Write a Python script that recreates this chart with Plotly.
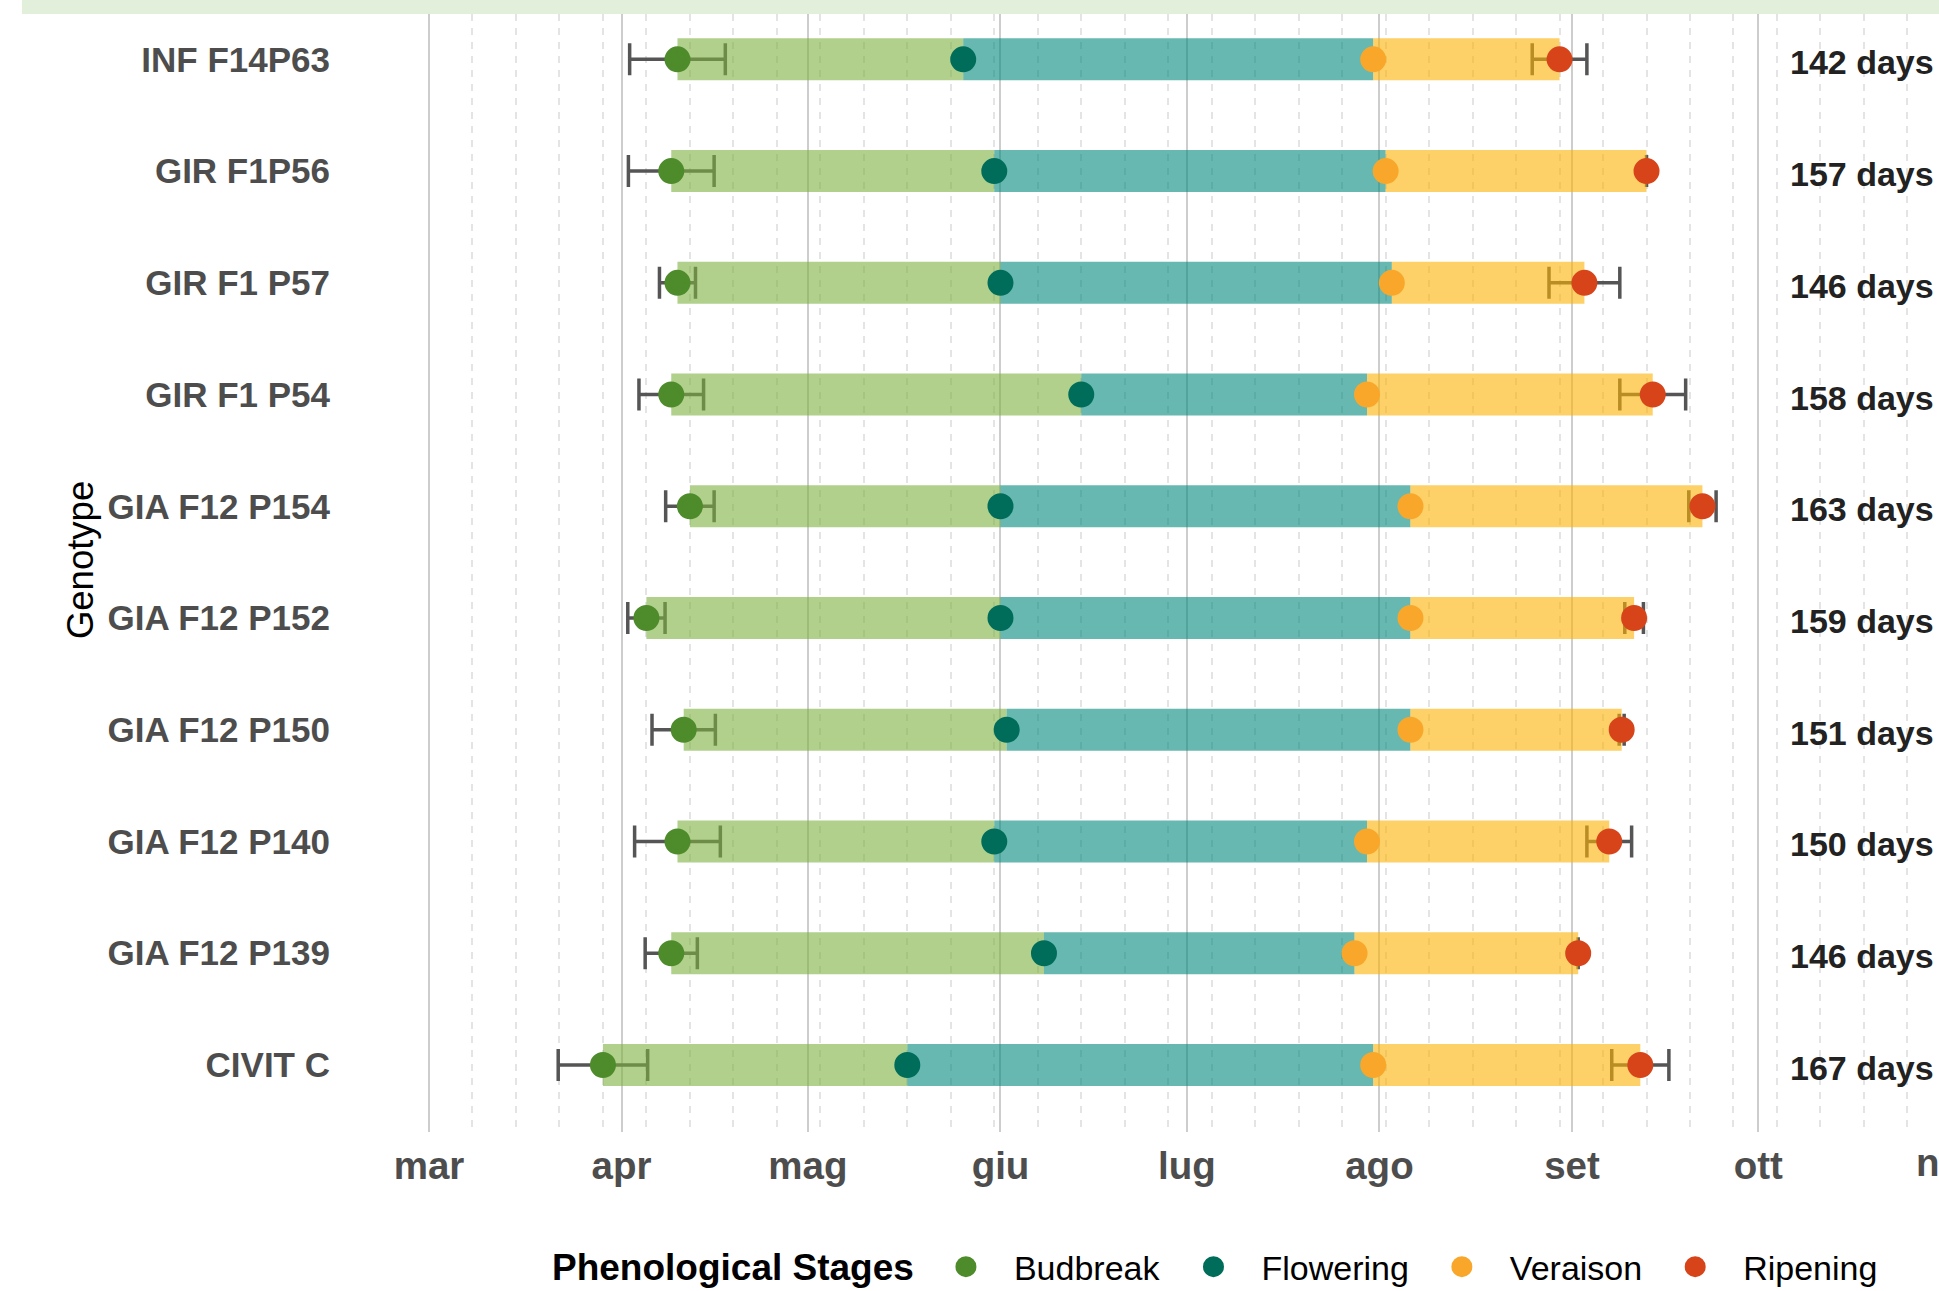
import pandas as pd
import plotly.graph_objects as go

# Genotypes, listed top to bottom
GENOTYPES = ["INF F14P63", "GIR F1P56", "GIR F1 P57", "GIR F1 P54", "GIA F12 P154",
             "GIA F12 P152", "GIA F12 P150", "GIA F12 P140", "GIA F12 P139", "CIVIT C"]

# Mean date of each phenological stage
BUDBREAK = ["2023-04-10", "2023-04-09", "2023-04-10", "2023-04-09", "2023-04-12",
            "2023-04-05", "2023-04-11", "2023-04-10", "2023-04-09", "2023-03-29"]
FLOWERING = ["2023-05-26", "2023-05-31", "2023-06-01", "2023-06-14", "2023-06-01",
             "2023-06-01", "2023-06-02", "2023-05-31", "2023-06-08", "2023-05-17"]
VERAISON = ["2023-07-31", "2023-08-02", "2023-08-03", "2023-07-30", "2023-08-06",
            "2023-08-06", "2023-08-06", "2023-07-30", "2023-07-28", "2023-07-31"]
RIPENING = ["2023-08-30", "2023-09-13", "2023-09-03", "2023-09-14", "2023-09-22",
            "2023-09-11", "2023-09-09", "2023-09-07", "2023-09-02", "2023-09-12"]

# Standard deviation (days) of budbreak and ripening dates
BUDBREAK_SD = [7.7, 6.9, 2.9, 5.2, 3.9, 3.0, 5.1, 6.9, 4.2, 7.2]
RIPENING_SD = [4.4, None, 5.7, 5.3, 2.2, 1.5, 0.4, 3.6, None, 4.6]

# Season length, budbreak to ripening (days)
SEASON_DAYS = [142, 157, 146, 158, 163, 159, 151, 150, 146, 167]

MONTH_TICKS = ["2023-03-01", "2023-04-01", "2023-05-01", "2023-06-01",
               "2023-07-01", "2023-08-01", "2023-09-01", "2023-10-01"]
MONTH_LABELS = ["mar", "apr", "mag", "giu", "lug", "ago", "set", "ott"]
NEXT_MONTH, NEXT_LABEL = "2023-11-01", "nov"

STAGES = ["Budbreak", "Flowering", "Veraison", "Ripening"]
POINT_COLORS = ["#4E8B2B", "#006D5B", "#F9A72B", "#D8441A"]
BAR_COLORS = ["rgba(123,177,63,0.6)", "rgba(2,137,123,0.6)", "rgba(252,177,3,0.6)"]

SEASON_START = pd.Timestamp("2023-03-01")
X_RANGE = ["2023-02-25 22:35", "2023-10-30 02:00"]
LABEL_X = "2023-10-05 19:00"
FONT = "Liberation Sans, Arial, sans-serif"


def season_day(values):
    """Days elapsed since the first of March."""
    return ((pd.to_datetime(values) - SEASON_START) / pd.Timedelta(days=1)).tolist()


days = {s: season_day(v) for s, v in zip(STAGES, [BUDBREAK, FLOWERING, VERAISON, RIPENING])}
x_range = season_day(X_RANGE)

fig = go.Figure()

# spread of budbreak and ripening dates, kept beneath the translucent bars
for stage, sd in [("Budbreak", BUDBREAK_SD), ("Ripening", RIPENING_SD)]:
    fig.add_trace(go.Bar(
        y=GENOTYPES, x=[0] * len(GENOTYPES), base=days[stage], orientation="h",
        width=0.376, marker=dict(color="rgba(0,0,0,0)", line=dict(width=0)),
        showlegend=False, hoverinfo="skip",
        error_x=dict(type="data", array=sd, symmetric=True,
                     color="#555555", thickness=3.5, width=16),
    ))

# stage intervals
for (a, b), color in zip([("Budbreak", "Flowering"), ("Flowering", "Veraison"),
                          ("Veraison", "Ripening")], BAR_COLORS):
    fig.add_trace(go.Bar(
        y=GENOTYPES, x=[e - s for s, e in zip(days[a], days[b])], base=days[a],
        orientation="h", width=0.376, marker=dict(color=color, line=dict(width=0)),
        showlegend=False, hoverinfo="skip",
    ))

# stage dates
for stage, color in zip(STAGES, POINT_COLORS):
    fig.add_trace(go.Scatter(
        y=GENOTYPES, x=days[stage], mode="markers", name=stage,
        marker=dict(color=color, size=21, line=dict(color=color, width=5)),
    ))

next_frac = (season_day([NEXT_MONTH])[0] - x_range[0]) / (x_range[1] - x_range[0])
label_x = season_day([LABEL_X])[0]

# season length labels
annotations = [
    dict(text=f"{d} days", x=label_x, y=g, xref="x", yref="y", xanchor="left",
         yanchor="middle", yshift=-3, showarrow=False,
         font=dict(family=FONT, size=34, color="#222222", weight="bold"))
    for g, d in zip(GENOTYPES, SEASON_DAYS)
]
annotations += [
    dict(text="Genotype", xref="paper", yref="paper", x=-0.2158, y=0.5116,
         textangle=-90, showarrow=False, xanchor="center", yanchor="middle",
         font=dict(family=FONT, size=36.5, color="black")),
    dict(text=NEXT_LABEL, xref="paper", yref="paper", x=next_frac, y=0,
         xanchor="center", yanchor="top", yshift=-7, showarrow=False,
         font=dict(family=FONT, size=38.5, color="#4D4D4D", weight="bold")),
    dict(text="Phenological Stages", xref="paper", yref="paper", x=0.3309, y=-0.1208,
         xanchor="right", yanchor="middle", showarrow=False,
         font=dict(family=FONT, size=37, color="black", weight="bold")),
]

fig.update_layout(
    width=1939, height=1291,
    margin=dict(l=410, r=0, t=14, b=159, autoexpand=False),
    paper_bgcolor="white", plot_bgcolor="white",
    barmode="overlay",
    font=dict(family=FONT, color="black"),
    xaxis=dict(
        type="linear", range=x_range,
        tickmode="array", tickvals=season_day(MONTH_TICKS), ticktext=MONTH_LABELS,
        tickfont=dict(family=FONT, size=38.5, color="#4D4D4D", weight="bold"),
        ticks="", ticklabelstandoff=7,
        showgrid=True, gridcolor="#CDCDCD", gridwidth=1.5,
        showline=False, zeroline=False,
        minor=dict(tick0=0, dtick=7, showgrid=True,
                   gridcolor="#E4E4E4", gridwidth=1.5, griddash="7px,7px"),
    ),
    yaxis=dict(
        type="category", categoryorder="array", categoryarray=GENOTYPES[::-1],
        range=[-0.6, 9.406],
        tickfont=dict(family=FONT, size=35, color="#4D4D4D", weight="bold"),
        ticks="", ticklabelstandoff=79, showgrid=False, showline=False, zeroline=False,
    ),
    legend=dict(
        orientation="h", x=0.3322, y=-0.1208, xanchor="left", yanchor="middle",
        font=dict(family=FONT, size=34, color="black"),
        itemwidth=86, bgcolor="rgba(0,0,0,0)",
    ),
    shapes=[dict(type="rect", xref="paper", yref="paper", x0=-0.2538, x1=1.0,
                 y0=1.0, y1=1.0 + 14 / 1118, fillcolor="#E2EFDA", line=dict(width=0),
                 layer="above")],
    annotations=annotations,
)

fig.write_html("out.html")
